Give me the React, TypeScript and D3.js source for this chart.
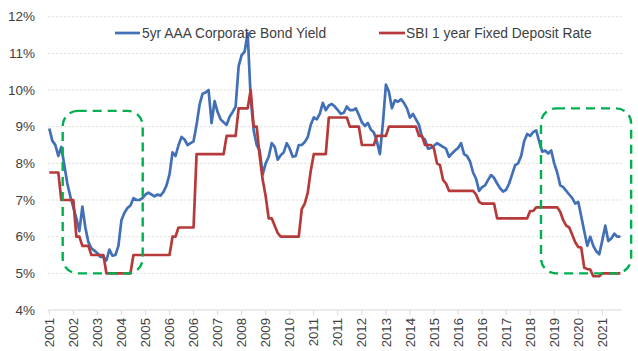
import React from "react";
import * as d3 from "d3";

const tickLabels = [
  "2001", "2002", "2003", "2004", "2005", "2006", "2006", "2007", "2008", "2009", "2010", "2011",
  "2011", "2012", "2013", "2014", "2015", "2016", "2016", "2017", "2018", "2019", "2020", "2021",
];
const yTicks = [4, 5, 6, 7, 8, 9, 10, 11, 12];
const pointsPerTick = 8;
const seriesNames = ["5yr AAA Corporate Bond Yield", "SBI 1 year Fixed Deposit Rate"];

const bondYield = [
  8.95, 8.62, 8.5, 8.2, 8.45, 7.95, 7.45, 7.1, 6.8, 6.5,
  6.15, 6.82, 6.25, 5.85, 5.68, 5.62, 5.55, 5.45, 5.45, 5.35,
  5.65, 5.48, 5.5, 5.75, 6.45, 6.65, 6.78, 6.85, 7.05, 7.0,
  7.0, 7.05, 7.15, 7.2, 7.15, 7.1, 7.15, 7.12, 7.22, 7.4,
  7.7, 8.3, 8.2, 8.5, 8.72, 8.65, 8.5, 8.55, 8.6, 9.05,
  9.6, 9.9, 9.93, 10.0, 9.1, 9.7, 9.4, 9.2, 9.12, 9.05,
  9.27, 9.4, 9.55, 10.65, 10.95, 11.05, 11.55, 9.8, 8.9, 8.5,
  8.35, 7.7, 8.0, 8.18, 8.55, 8.45, 8.1, 8.22, 8.3, 8.55,
  8.4, 8.18, 8.2, 8.5, 8.5, 8.58, 8.72, 9.05, 9.25, 9.2,
  9.35, 9.65, 9.45, 9.58, 9.62, 9.55, 9.45, 9.35, 9.38, 9.55,
  9.45, 9.45, 9.5, 9.32, 9.12, 9.02, 9.1, 8.92, 8.84, 8.6,
  8.25, 9.1, 10.15, 9.95, 9.5, 9.72, 9.68, 9.75, 9.65, 9.5,
  9.25, 9.35, 9.2, 9.05, 8.72, 8.65, 8.4, 8.42, 8.48, 8.55,
  8.5, 8.45, 8.4, 8.18, 8.27, 8.35, 8.42, 8.55, 8.25, 8.2,
  8.05, 7.75, 7.58, 7.25, 7.35, 7.4, 7.55, 7.68, 7.6, 7.45,
  7.32, 7.23, 7.28, 7.45, 7.7, 7.95, 8.0, 8.2, 8.6, 8.8,
  8.75, 8.85, 8.9, 8.6, 8.32, 8.35, 8.27, 8.35, 8.0, 7.75,
  7.4, 7.35, 7.25, 7.15, 7.05, 6.9, 6.95, 6.55, 6.15, 5.75,
  6.0, 5.75, 5.6, 5.52, 5.9, 6.3, 5.88, 5.95, 6.08, 6.0, 6.0,
];

const fdRate = [
  7.75, 7.75, 7.75, 7.75, 7.0, 7.0, 7.0, 7.0, 7.0, 6.0,
  6.0, 5.75, 5.75, 5.75, 5.5, 5.5, 5.5, 5.5, 5.5, 5.0,
  5.0, 5.0, 5.0, 5.0, 5.0, 5.0, 5.0, 5.0, 5.5, 5.5,
  5.5, 5.5, 5.5, 5.5, 5.5, 5.5, 5.5, 5.5, 5.5, 5.5,
  5.5, 6.0, 6.0, 6.25, 6.25, 6.25, 6.25, 6.25, 6.25, 8.25,
  8.25, 8.25, 8.25, 8.25, 8.25, 8.25, 8.25, 8.25, 8.25, 8.75,
  8.75, 8.75, 8.75, 9.5, 9.5, 9.5, 9.5, 10.0, 9.0, 9.0,
  8.2, 7.55, 7.1, 6.5, 6.5, 6.3, 6.1, 6.0, 6.0, 6.0,
  6.0, 6.0, 6.0, 6.0, 6.75, 6.9, 7.2, 7.8, 8.25, 8.25,
  8.25, 8.25, 8.25, 9.25, 9.25, 9.25, 9.25, 9.25, 9.25, 9.25,
  9.0, 9.0, 9.0, 9.0, 8.5, 8.5, 8.5, 8.5, 8.5, 8.75,
  8.75, 8.75, 8.75, 9.0, 9.0, 9.0, 9.0, 9.0, 9.0, 9.0,
  9.0, 9.0, 9.0, 8.75, 8.75, 8.5, 8.5, 8.5, 8.4, 8.0,
  7.95, 7.55, 7.45, 7.25, 7.25, 7.25, 7.25, 7.25, 7.25, 7.25,
  7.25, 7.25, 7.15, 6.95, 6.9, 6.9, 6.9, 6.9, 6.9, 6.5,
  6.5, 6.5, 6.5, 6.5, 6.5, 6.5, 6.5, 6.5, 6.5, 6.5,
  6.7, 6.7, 6.8, 6.8, 6.8, 6.8, 6.8, 6.8, 6.8, 6.8,
  6.68, 6.45, 6.3, 6.25, 6.05, 5.85, 5.72, 5.7, 5.15, 5.12,
  5.1, 4.92, 4.92, 4.92, 5.0, 5.0, 5.0, 5.0, 5.0, 5.0, 5.0,
];

// highlighted periods (in tick units along x, and % along y)
const highlightFrom = [0.557, 20.45];
const highlightTo = [3.885, 24.2];
const highlightLow = [5.0, 5.0];
const highlightHigh = [9.43, 9.5];

const BLUE = "#4270B6";
const RED = "#B63A3A";
const GREEN = "#00B050";
const FONT = "'Liberation Sans', Arial, sans-serif";

export default function App() {
  const W = 638;
  const H = 351;
  const x = d3.scaleLinear().domain([0, tickLabels.length - 1]).range([49.3, 602.3]);
  const y = d3.scaleLinear().domain([4, 12]).range([310, 16.7]);
  const xEnd = x(23.82);
  const xStart = x(-0.04);

  const line = d3
    .line<number>()
    .x((_, i) => x(i / pointsPerTick))
    .y((d) => y(d))
    .curve(d3.curveLinear);

  return (
    <svg
      width={W}
      height={H}
      viewBox={`0 0 ${W} ${H}`}
      style={{ position: "absolute", left: 0, top: 0, background: "#fff" }}
      fontFamily={FONT}
    >
      {/* gridlines */}
      {yTicks.slice(1).map((v) => (
        <line
          key={v}
          x1={xStart}
          x2={xEnd}
          y1={y(v)}
          y2={y(v)}
          stroke="#d9d9d9"
          strokeWidth={1}
          strokeDasharray="2,2"
        />
      ))}
      {/* x axis */}
      <line x1={xStart} x2={xEnd} y1={y(4)} y2={y(4)} stroke="#d9d9d9" strokeWidth={1.2} />
      {tickLabels.map((lab, i) => (
        <g key={i}>
          <line x1={x(i)} x2={x(i)} y1={y(4)} y2={y(4) + 5} stroke="#d9d9d9" strokeWidth={1} />
          <text
            transform={`translate(${x(i)},${y(4) + 8}) rotate(-90)`}
            textAnchor="end"
            dy="0.35em"
            fontSize={13.2}
            fill="#404040"
          >
            {lab}
          </text>
        </g>
      ))}
      {/* y labels */}
      {yTicks.map((v) => (
        <text
          key={v}
          x={35}
          y={y(v)}
          dy="0.35em"
          textAnchor="end"
          fontSize={13.5}
          fill="#404040"
        >
          {`${v}%`}
        </text>
      ))}
      {/* series */}
      <path d={line(bondYield) || ""} fill="none" stroke={BLUE} strokeWidth={2.7} strokeLinejoin="round" />
      <path d={line(fdRate) || ""} fill="none" stroke={RED} strokeWidth={2.7} strokeLinejoin="round" />
      {/* highlight boxes */}
      {highlightFrom.map((f, k) => (
        <rect
          key={k}
          x={x(f)}
          y={y(highlightHigh[k])}
          width={x(highlightTo[k]) - x(f)}
          height={y(highlightLow[k]) - y(highlightHigh[k])}
          rx={15}
          ry={15}
          fill="none"
          stroke={GREEN}
          strokeWidth={2.4}
          strokeDasharray="9,6"
        />
      ))}
      {/* legend */}
      <line x1={115} x2={140} y1={33} y2={33} stroke={BLUE} strokeWidth={2.7} />
      <text x={142} y={33} dy="0.35em" fontSize={13.8} fill="#404040">
        {seriesNames[0]}
      </text>
      <line x1={379} x2={405} y1={33} y2={33} stroke={RED} strokeWidth={2.7} />
      <text x={406} y={33} dy="0.35em" fontSize={13.8} fill="#404040">
        {seriesNames[1]}
      </text>
    </svg>
  );
}
